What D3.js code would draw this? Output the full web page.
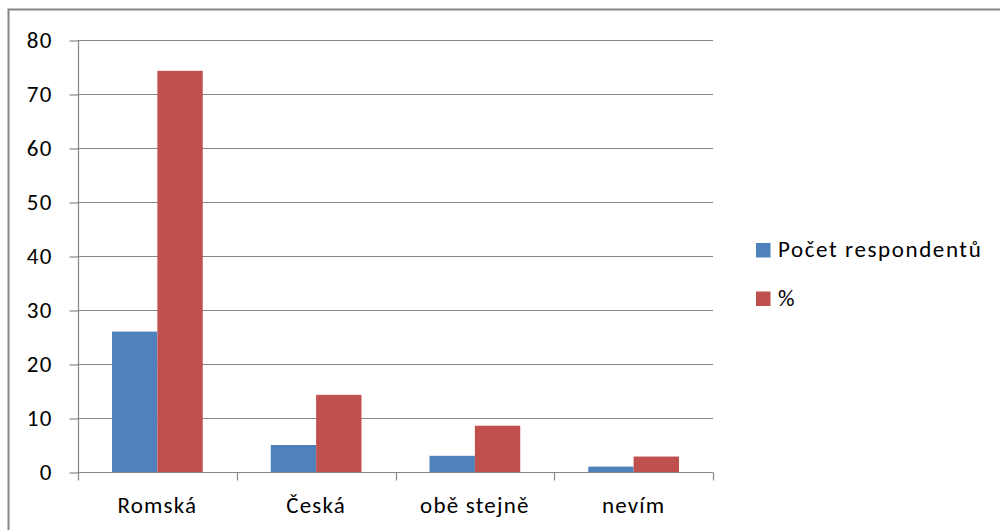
<!DOCTYPE html>
<html>
<head>
<meta charset="utf-8">
<script src="https://cdn.jsdelivr.net/npm/d3@7"></script>
<style>
  html, body { margin: 0; padding: 0; background: #fff; }
  svg { display: block; }
  text { font-family: Carlito, Calibri, Lato, "Open Sans", sans-serif; fill: #000; }
</style>
</head>
<body>
<svg id="chart" width="1000" height="530"></svg>
<script>
// Categories and series
const categories = ["Romská", "Česká", "obě stejně", "nevím"];
const seriesNames = ["Počet respondentů", "%"];
const countValues = [26, 5, 3, 1];
const percentValues = [74.29, 14.29, 8.57, 2.86];
const yTicks = [0, 10, 20, 30, 40, 50, 60, 70, 80];
const seriesColors = ["#4F81BD", "#C0504D"];

const svg = d3.select("#chart");
const W = 1000, H = 530;
const plot = { left: 78, right: 713, top: 40, bottom: 472 };
const fontSize = 23;
const fontFamily = "Carlito, Calibri, Lato, 'Open Sans', sans-serif";
const spacing = 1.2;

// Outer chart frame
svg.append("rect")
  .attr("x", 8.5).attr("y", 9.5)
  .attr("width", W + 20).attr("height", H + 20)
  .attr("fill", "#fff")
  .attr("stroke", "#868686").attr("stroke-width", 2);

const x = d3.scaleBand().domain(categories).range([plot.left, plot.right]).paddingInner(0).paddingOuter(0);
const x1 = d3.scaleBand().domain(seriesNames).range([0, x.bandwidth()]).paddingInner(0).paddingOuter(0.75);
const y = d3.scaleLinear().domain([0, 80]).range([plot.bottom, plot.top]);

// Horizontal gridlines
svg.append("g").selectAll("line").data(yTicks.filter(d => d > 0)).join("line")
  .attr("x1", plot.left).attr("x2", plot.right)
  .attr("y1", d => Math.round(y(d)) + 0.5).attr("y2", d => Math.round(y(d)) + 0.5)
  .attr("stroke", "#868686").attr("stroke-width", 1.2);

// Bars
const data = categories.map((c, i) => ({ c, vals: [countValues[i], percentValues[i]] }));
const groups = svg.append("g").selectAll("g").data(data).join("g")
  .attr("transform", d => `translate(${x(d.c)},0)`);
groups.selectAll("rect").data(d => d.vals.map((v, j) => ({ v, s: seriesNames[j], j }))).join("rect")
  .attr("x", d => x1(d.s))
  .attr("width", x1.bandwidth())
  .attr("y", d => y(d.v))
  .attr("height", d => y(0) - y(d.v))
  .attr("fill", d => seriesColors[d.j]);

// Y axis
const yAxis = d3.axisLeft(y).tickValues(yTicks).tickSize(9).tickPadding(17).tickFormat(d3.format("d"));
const gy = svg.append("g").attr("transform", `translate(${plot.left + 0.5},0.5)`).call(yAxis);
gy.select(".domain").attr("stroke", "#868686").attr("stroke-width", 1.2).attr("d", `M0,${plot.top}V${plot.bottom}`);
gy.selectAll(".tick line").attr("stroke", "#868686").attr("stroke-width", 1.2);
gy.selectAll(".tick text").attr("font-size", fontSize).attr("font-family", fontFamily)
  .attr("letter-spacing", spacing).attr("fill", "#000");

// X axis with category-boundary ticks
const xAxis = d3.axisBottom(x).tickSize(0).tickPadding(24);
const gx = svg.append("g").attr("transform", `translate(0,${plot.bottom + 0.5})`).call(xAxis);
gx.select(".domain").attr("stroke", "#868686").attr("stroke-width", 1.2).attr("d", `M${plot.left},0H${plot.right}`);
gx.selectAll(".tick text").attr("font-size", fontSize).attr("font-family", fontFamily)
  .attr("letter-spacing", spacing).attr("fill", "#000");
const bounds = categories.map(c => x(c)).concat([x(categories[categories.length - 1]) + x.bandwidth()]);
gx.append("g").selectAll("line").data(bounds).join("line")
  .attr("x1", d => Math.round(d) + 0.5).attr("x2", d => Math.round(d) + 0.5)
  .attr("y1", 0).attr("y2", 8)
  .attr("stroke", "#868686").attr("stroke-width", 1.2);

// Legend
const legend = svg.append("g").attr("transform", "translate(756,243)");
const items = legend.selectAll("g").data(seriesNames).join("g")
  .attr("transform", (d, i) => `translate(0,${i * 48.5})`);
items.append("rect").attr("width", 14.5).attr("height", 14.5).attr("fill", (d, i) => seriesColors[i]);
items.append("text").attr("x", 22).attr("y", 14).attr("font-size", fontSize)
  .attr("letter-spacing", 1.6).text(d => d);
</script>
</body>
</html>
